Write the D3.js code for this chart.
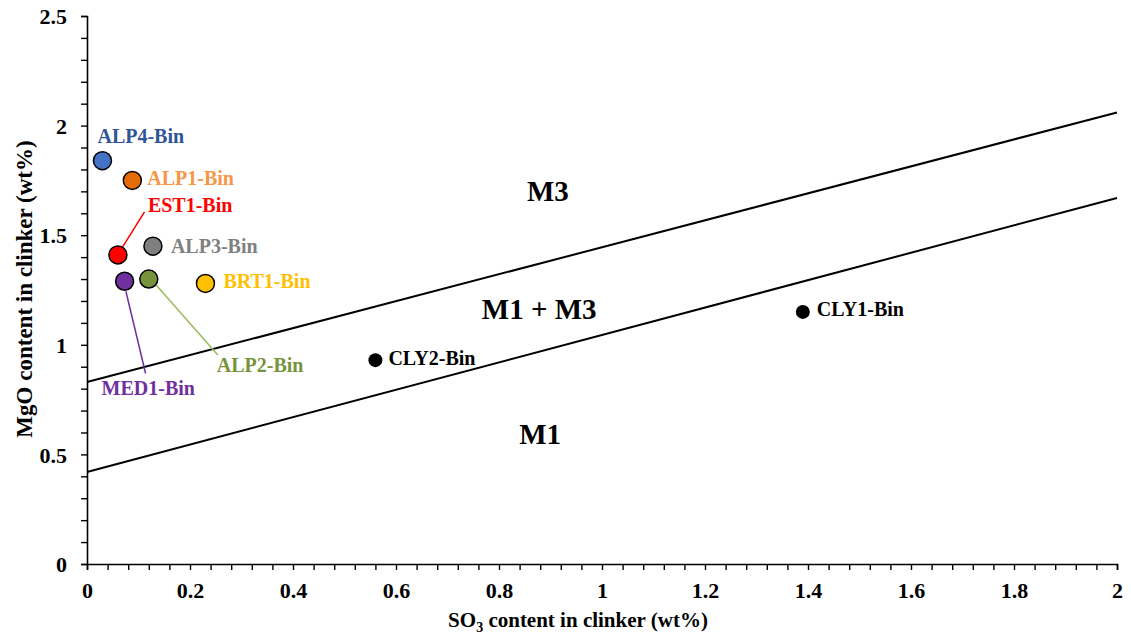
<!DOCTYPE html>
<html>
<head>
<meta charset="utf-8">
<script src="https://cdn.jsdelivr.net/npm/d3@7"></script>
<style>
  html, body { margin: 0; padding: 0; background: #fff; }
  svg text { font-family: "Liberation Serif", "Times New Roman", serif; font-weight: bold; }
</style>
</head>
<body>
<svg id="chart" width="1131" height="641"></svg>
<script>
// ---- data ----
const sampleNames = ["ALP4-Bin", "ALP1-Bin", "EST1-Bin", "ALP3-Bin", "MED1-Bin", "ALP2-Bin", "BRT1-Bin", "CLY1-Bin", "CLY2-Bin"];
const so3Values   = [0.03, 0.088, 0.06, 0.128, 0.073, 0.12, 0.23, 1.39, 0.56];
const mgoValues   = [1.84, 1.75, 1.41, 1.45, 1.29, 1.30, 1.28, 1.15, 0.93];
// boundary lines: [SO3, MgO] end points
const upperBoundary = [[0, 0.83], [2, 2.06]];
const lowerBoundary = [[0, 0.42], [2, 1.67]];
const regionNames = ["M3", "M1 + M3", "M1"];
const regionSO3   = [0.895, 0.878, 0.88];
const regionMgO   = [1.656, 1.118, 0.547];
const xTickValues = [0, 0.2, 0.4, 0.6, 0.8, 1, 1.2, 1.4, 1.6, 1.8, 2];
const yTickValues = [0, 0.5, 1, 1.5, 2, 2.5];

// ---- styles ----
const fills  = ["#4472C4", "#E36C09", "#FF0000", "#7F7F7F", "#7030A0", "#77933C", "#FFC000", "#000000", "#000000"];
const labelColors = ["#2F5597", "#F79646", "#FF0000", "#808080", "#7030A0", "#77933C", "#FFC000", "#000000", "#000000"];
const radii  = [9, 9, 9, 9, 9, 9, 9, 7, 7];
// label offsets relative to marker (px): [dx, dy]
const labelOffsets = [[-5, -18], [15, 4.5], [30, -42.5], [18, 6.7], [-23, 114], [68, 93], [18, 5], [14, 4], [13, 5]];
// leader lines relative to marker (px): [x1, y1, x2, y2] or null
const leaders = [null, null, [4.3, -7.3, 26.6, -43], null, [1.3, 10, 21, 92.3], [2.7, 0.7, 69, 76], null, null, null];
const leaderColors = [null, null, "#FF0000", null, "#7030A0", "#9BBB59", null, null, null];

const svg = d3.select("#chart");
const mLeft = 87, mRight = 1117, mTop = 16, mBottom = 564;

const x = d3.scaleLinear().domain([0, 2]).range([mLeft, mRight]);
const y = d3.scaleLinear().domain([0, 2.5]).range([mBottom, mTop]);

// axes
const xAxis = d3.axisBottom(x).tickValues(d3.range(0, 2.0001, 0.04)).tickSize(6)
  .tickFormat(d => { const m = xTickValues.find(v => Math.abs(v - d) < 1e-6); return m === undefined ? "" : d3.format("~g")(m); });
const gx = svg.append("g").attr("transform", `translate(0,${mBottom})`).call(xAxis);
gx.selectAll("text").attr("font-size", 22).attr("fill", "#000").attr("dy", "0").attr("y", 34)
  .style("font-family", '"Liberation Serif", "Times New Roman", serif').style("font-weight", "bold");

const yAxis = d3.axisLeft(y).tickValues(d3.range(0, 2.5001, 0.1)).tickSize(6)
  .tickFormat(d => { const m = yTickValues.find(v => Math.abs(v - d) < 1e-6); return m === undefined ? "" : d3.format("~g")(m); });
const gy = svg.append("g").attr("transform", `translate(${mLeft},0)`).call(yAxis);
gy.selectAll("text").attr("font-size", 22).attr("fill", "#000").attr("x", -20).attr("dy", "0.35em")
  .style("font-family", '"Liberation Serif", "Times New Roman", serif').style("font-weight", "bold");

[gx, gy].forEach(g => {
  g.select(".domain").attr("stroke", "#000").attr("stroke-width", 1.6);
  g.selectAll(".tick line").attr("stroke", "#000").attr("stroke-width", 1.4);
});

// boundary lines
const line = d3.line().x(d => x(d[0])).y(d => y(d[1]));
[upperBoundary, lowerBoundary].forEach(b => {
  svg.append("path").attr("d", line(b)).attr("fill", "none").attr("stroke", "#000").attr("stroke-width", 2);
});

// region labels
svg.append("g").selectAll("text").data(regionNames).join("text")
  .attr("x", (d, i) => x(regionSO3[i])).attr("y", (d, i) => y(regionMgO[i]))
  .attr("text-anchor", "middle").attr("font-size", 29).attr("fill", "#000").text(d => d);

// leader lines
const pts = sampleNames.map((n, i) => ({ n, i, px: x(so3Values[i]), py: y(mgoValues[i]) }));
svg.append("g").selectAll("line").data(pts.filter(p => leaders[p.i])).join("line")
  .attr("x1", p => p.px + leaders[p.i][0]).attr("y1", p => p.py + leaders[p.i][1])
  .attr("x2", p => p.px + leaders[p.i][2]).attr("y2", p => p.py + leaders[p.i][3])
  .attr("stroke", p => leaderColors[p.i]).attr("stroke-width", 1.5);

// markers
svg.append("g").selectAll("circle").data(pts).join("circle")
  .attr("cx", p => p.px).attr("cy", p => p.py).attr("r", p => radii[p.i])
  .attr("fill", p => fills[p.i]).attr("stroke", "#000").attr("stroke-width", p => p.i < 7 ? 1.5 : 0);

// point labels
svg.append("g").selectAll("text").data(pts).join("text")
  .attr("x", p => p.px + labelOffsets[p.i][0]).attr("y", p => p.py + labelOffsets[p.i][1])
  .attr("font-size", 20).attr("fill", p => labelColors[p.i]).text(p => p.n);

// axis titles
const xt = svg.append("text").attr("x", 578).attr("y", 627).attr("text-anchor", "middle").attr("font-size", 21).attr("fill", "#000");
xt.append("tspan").text("SO");
xt.append("tspan").attr("font-size", 14).attr("dy", 5).text("3");
xt.append("tspan").attr("dy", -5).text(" content in clinker (wt%)");

svg.append("text").attr("transform", "translate(32,289) rotate(-90)").attr("text-anchor", "middle")
  .attr("font-size", 23).attr("fill", "#000").text("MgO content in clinker (wt%)");
</script>
</body>
</html>
